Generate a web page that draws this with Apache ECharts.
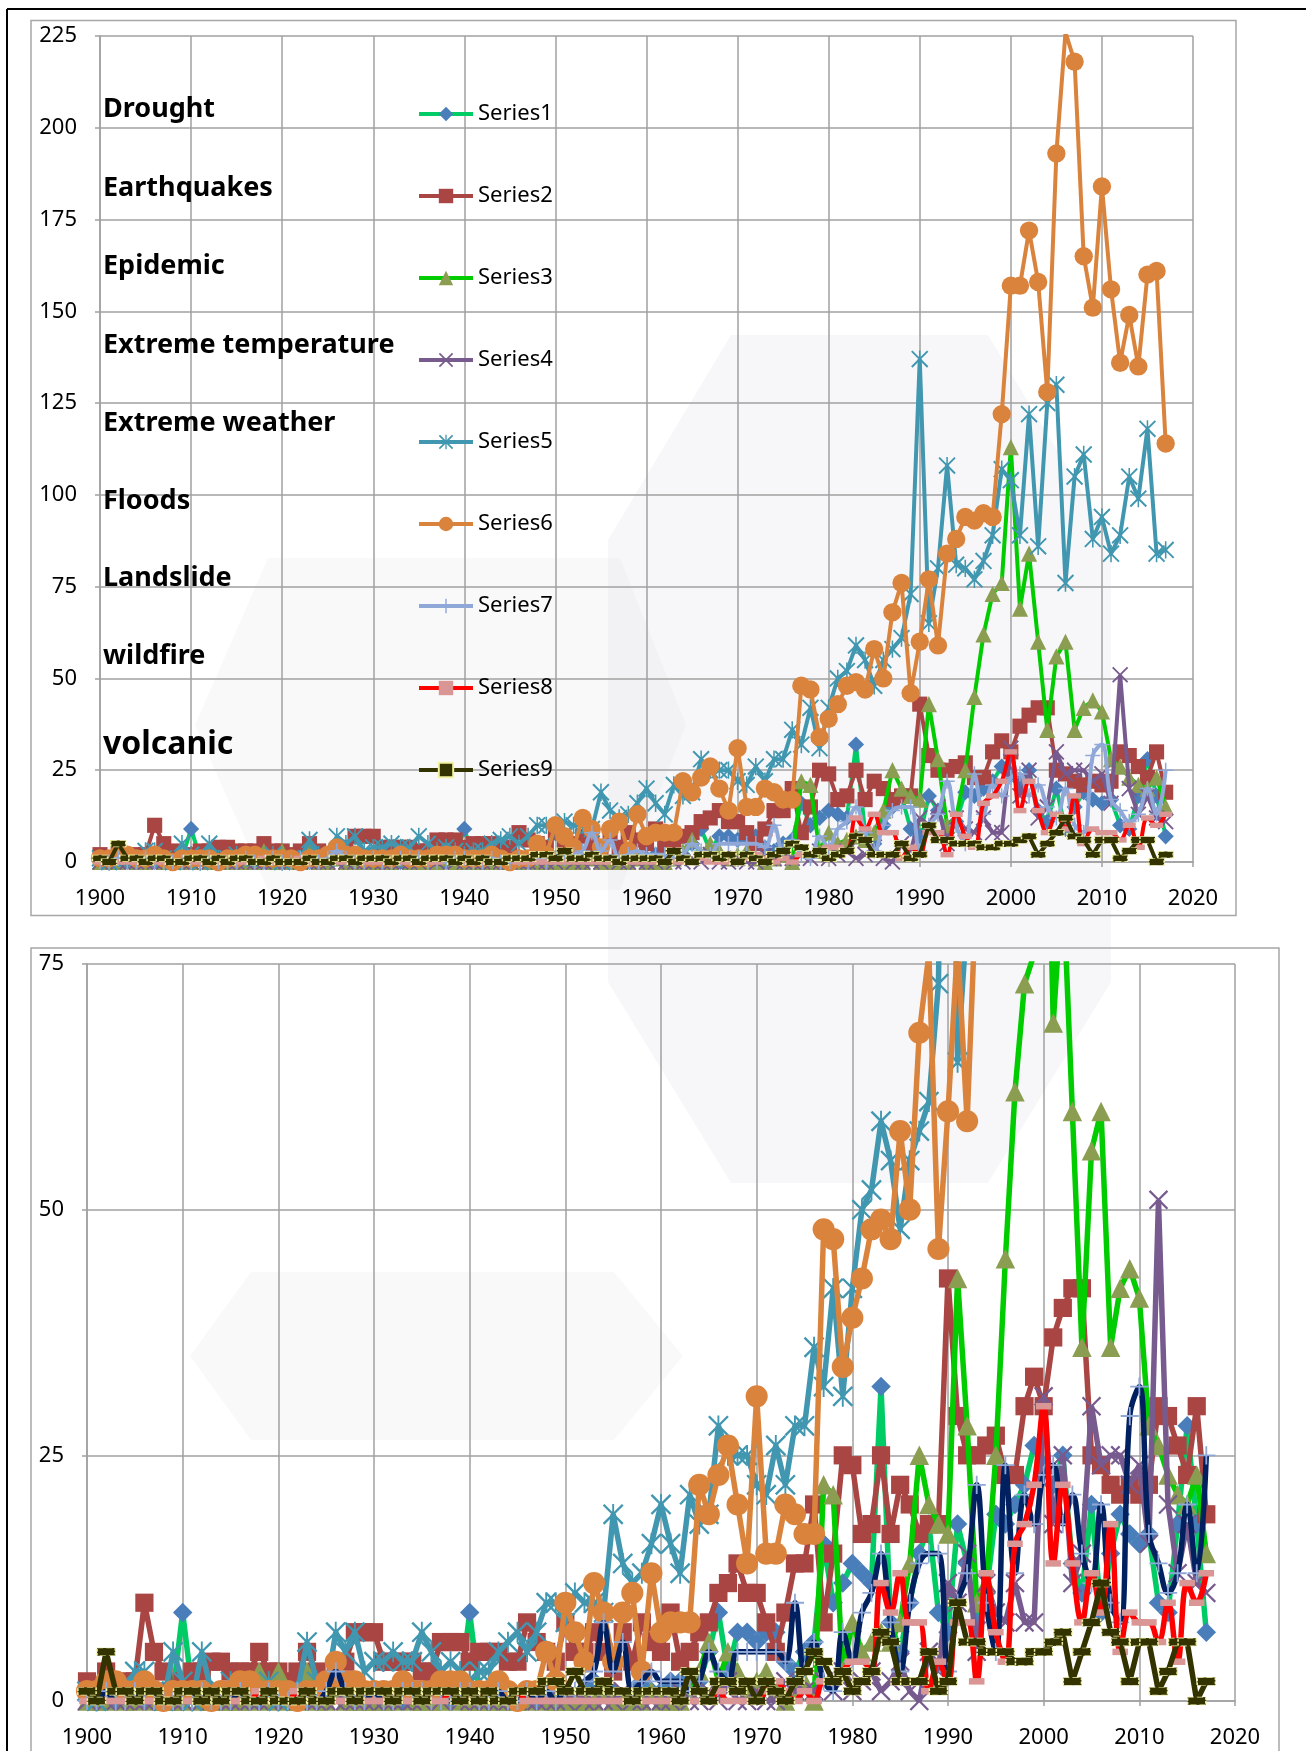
<!DOCTYPE html>
<html>
<head>
<meta charset="utf-8">
<script src="https://cdn.jsdelivr.net/npm/echarts@6/dist/echarts.min.js"></script>
<style>
html,body{margin:0;padding:0;background:#fff;}
#chart{width:1306px;height:1751px;}
</style>
</head>
<body>
<div id="chart"></div>
<script>
// ---------------- DATA ----------------
const firstYear = 1900;
const seriesNames = ['Series1','Series2','Series3','Series4','Series5','Series6','Series7','Series8','Series9'];
const categoryLabels = ['Drought','Earthquakes','Epidemic','Extreme temperature','Extreme weather','Floods','Landslide','wildfire','volcanic'];
const xTicks = [1900,1910,1920,1930,1940,1950,1960,1970,1980,1990,2000,2010,2020];
const yTicksTop = [0,25,50,75,100,125,150,175,200,225];
const yTicksBottom = [0,25,50,75];

// Drought
const s1 = [1,0,1,0,0,1,0,0,1,1, 9,1,0,1,0,0,1,0,0,1, 0,1,0,0,1,0,1,0,0,1, 0,1,0,0,1,0,0,1,0,1,
  9,1,1,0,1,0,1,0,1,1, 1,0,1,2,1,1,0,1,2,1, 1,2,2,1,2,5,9,3,7,7, 6,7,7,4,3,5,6,16,10,12,
  14,13,12,32,8,5,10,15,18,9, 7,18,14,8,11,19,18,20,22,26, 24,22,25,14,11,20,9,15,19,17, 16,17,10,9,18,28,18,7];
// Earthquakes
const s2 = [2,1,3,1,2,2,10,5,3,1, 2,3,3,4,4,3,3,3,5,3, 3,2,3,5,3,2,3,4,7,7, 7,4,4,4,4,3,3,6,6,6,
  4,5,5,5,4,4,8,6,5,4, 8,5,5,7,5,3,7,4,8,6, 5,9,4,5,7,8,11,12,14,11, 11,8,5,9,14,14,20,8,15,25,
  24,17,18,25,17,22,20,17,18,18, 43,29,25,25,26,27,23,23,30,33, 30,37,40,42,42,25,24,22,21,22, 21,22,30,29,26,23,30,19];
// Epidemic
const s3 = [0,0,0,1,0,0,1,0,0,0, 0,1,0,0,0,0,0,0,3,0, 3,0,0,3,0,0,1,0,0,0, 0,0,0,1,0,0,0,0,1,0,
  0,0,0,0,0,0,0,1,0,0, 0,0,0,0,1,0,0,0,0,1, 0,0,0,1,3,6,2,5,3,1, 2,3,1,0,1,2,0,22,21,3,
  8,5,6,7,6,8,14,25,20,18, 17,43,28,10,12,25,45,62,73,76, 113,69,84,60,36,56,60,36,42,44, 41,28,26,23,21,20,23,15];
// Extreme temperature
const s4 = [0,0,0,0,0,0,0,0,0,0, 0,0,0,0,0,0,0,0,0,0, 0,0,0,0,0,0,0,0,0,0, 0,0,0,0,0,0,1,0,1,0,
  0,0,0,0,0,0,0,0,0,0, 0,1,0,0,0,0,1,0,0,0, 0,0,1,0,0,1,0,2,0,0, 1,0,0,2,1,1,1,2,1,3,
  1,2,3,1,2,4,1,0,5,3, 12,10,15,5,12,9,8,12,8,8, 31,18,25,12,15,30,24,25,25,22, 24,16,51,20,13,18,12,11];
// Extreme weather
const s5 = [1,0,1,1,1,3,3,1,0,5, 2,0,5,1,1,2,1,1,1,2, 0,1,1,6,2,1,7,5,7,3, 4,4,5,4,4,7,5,3,4,3,
  2,3,3,5,6,7,5,7,10,10, 8,11,10,10,9,19,14,12,13,16, 20,16,13,21,18,19,28,25,25,25, 22,21,26,22,28,28,36,32,42,31,
  42,50,52,59,55,48,55,58,61,73, 137,65,80,108,81,80,77,82,89,107, 104,89,122,86,125,130,76,105,111,88, 94,84,89,105,99,118,84,85];
// Floods
const s6 = [1,1,2,2,1,1,2,1,0,1, 1,1,1,0,1,1,2,2,1,1, 1,1,0,1,1,2,4,2,2,1, 1,1,1,2,1,1,1,2,2,2,
  1,1,1,2,1,0,1,1,5,2, 10,7,4,12,9,4,9,11,3,13, 7,8,8,8,22,19,23,26,20,14, 31,15,15,20,19,17,17,48,47,34,
  39,43,48,49,47,58,50,68,76,46, 60,77,59,84,88,94,93,95,94,122, 157,157,172,158,128,193,226,218,165,151, 184,156,136,149,135,160,161,114];
// Landslide
const s7 = [0,0,1,0,0,1,0,0,0,0, 0,0,1,0,0,0,1,0,0,1, 0,0,1,0,0,1,3,1,0,0, 1,0,0,1,1,1,0,0,0,1,
  1,0,0,1,0,0,1,0,1,0, 1,1,2,3,8,3,6,1,2,3, 2,2,2,1,2,5,3,2,5,5, 5,5,5,4,10,3,6,2,1,7,
  4,9,11,15,8,3,10,14,15,15, 3,10,13,22,10,5,24,13,21,18, 23,24,18,21,15,12,20,10,8,29, 32,17,14,11,13,20,13,25];
// wildfire
const s8 = [0,0,0,0,0,0,0,0,0,0, 0,0,0,0,0,0,0,0,1,0, 0,0,1,0,0,0,0,0,0,0, 0,0,0,0,0,0,0,0,1,0,
  0,0,0,0,0,1,0,0,0,0, 0,0,0,0,0,0,0,0,0,0, 0,0,0,0,0,0,1,0,0,0, 0,1,2,1,0,1,0,2,2,3,
  4,4,3,12,9,13,8,8,1,4, 2,8,8,2,13,7,4,16,18,22, 30,14,22,14,8,13,9,18,5,9, 8,8,6,10,4,12,10,13];
// volcanic
const s9 = [1,0,5,1,1,0,1,1,0,0, 1,1,0,1,0,1,1,0,0,1, 0,0,0,1,0,0,1,1,0,1, 1,1,0,1,1,0,1,1,1,0,
  1,0,1,0,0,1,1,1,2,2, 1,3,1,1,2,1,1,0,1,1, 1,1,0,3,1,0,2,2,1,2, 0,2,1,0,2,3,5,4,2,3,
  1,2,3,7,6,2,2,2,5,1, 2,10,6,6,5,5,5,4,4,5, 5,6,7,2,5,8,12,7,6,2, 6,6,1,3,6,6,0,2];

const allSeries = [s1,s2,s3,s4,s5,s6,s7,s8,s9];
const years = s1.map((_, i) => firstYear + i);

// ---------------- STYLE ----------------
const xPath = 'path://M0,1.6L1.6,0L10,8.4L18.4,0L20,1.6L11.6,10L20,18.4L18.4,20L10,11.6L1.6,20L0,18.4L8.4,10Z';
const starPath = 'path://M0,1.6L1.6,0L10,8.4L18.4,0L20,1.6L11.6,10L20,18.4L18.4,20L10,11.6L1.6,20L0,18.4L8.4,10Z M9.1,0L10.9,0L10.9,20L9.1,20Z';
const plusPath = 'path://M9,0L11,0L11,9L20,9L20,11L11,11L11,20L9,20L9,11L0,11L0,9L9,9Z';

function styleFor(i, bottom) {
  const k = bottom ? 1.3 : 1.08;
  const lw = bottom ? 5.5 : 4;
  const st = [
    {line:'#00CC66', mark:'#4A7EBB', symbol:'diamond', size:15},
    {line:'#A94543', mark:'#A94543', symbol:'rect', size:14},
    {line:'#00CC00', mark:'#8A9D50', symbol:'triangle', size:15},
    {line:'#775A8E', mark:'#775A8E', symbol:xPath, size:15},
    {line:'#4197B0', mark:'#4197B0', symbol:starPath, size:16},
    {line:'#DA833C', mark:'#DA833C', symbol:'circle', size:17},
    {line: bottom ? '#002060' : '#8FA8D8', mark:'#8FA8D8', symbol:plusPath, size:14, smooth:0.4},
    {line:'#FF0000', mark:'#DA9694', symbol:'rect', size:[12,5], smooth:0.4},
    {line:'#333300', mark:'#333300', symbol:'rect', size:[14,6], border:'#F2F2A0'}
  ][i];
  const sz = Array.isArray(st.size) ? st.size.map(v => v * k) : st.size * k;
  const item = {color: st.mark, opacity: 1};
  if (st.border) { item.borderColor = st.border; item.borderWidth = 1; item.borderType = 'dashed'; }
  return {
    symbol: st.symbol, symbolSize: sz, smooth: st.smooth || false,
    lineStyle: {color: st.line, width: lw},
    itemStyle: item
  };
}

const series = [];
[0,1].forEach(g => {
  allSeries.forEach((vals, i) => {
    const s = styleFor(i, g === 1);
    series.push(Object.assign({
      name: seriesNames[i], type: 'line', xAxisIndex: g, yAxisIndex: g,
      data: vals.map((v, j) => [years[j], v]),
      showSymbol: true, clip: true, animation: false, z: 2 + i * 0.01
    }, s));
  });
});

const axisCommon = {
  axisLine: {show: true, lineStyle: {color: '#A0A0A0', width: 1.5}},
  axisTick: {show: true, length: 5, lineStyle: {color: '#A0A0A0', width: 1.5}},
  splitLine: {show: true, lineStyle: {color: '#A0A0A0', width: 1.5}}
};
const lblFont = {fontFamily: 'Noto Sans', fontSize: 22, color: '#000'};

function xAxis(g) {
  return Object.assign({
    type: 'value', gridIndex: g, min: xTicks[0], max: xTicks[xTicks.length-1], interval: 10,
    axisLabel: Object.assign({margin: 26, formatter: v => String(v)}, lblFont)
  }, axisCommon);
}
function yAxis(g, ticks) {
  return Object.assign({
    type: 'value', gridIndex: g, min: ticks[0], max: ticks[ticks.length-1], interval: ticks[1]-ticks[0],
    axisLabel: Object.assign({margin: 23}, lblFont)
  }, axisCommon);
}

const labelY = [109, 188, 266, 345, 423, 501, 578, 656, 745];
const graphics = [
  // watermark (light logo shapes)
  {type:'polygon', z:0, silent:true, shape:{points:[[731,335],[988,335],[1111,540],[1111,982],[988,1183],[731,1183],[608,982],[608,540]]}, style:{fill:'rgba(205,205,220,0.16)'}},
  {type:'polygon', z:0, silent:true, shape:{points:[[268,558],[620,558],[686,725],[620,890],[268,890],[195,725]]}, style:{fill:'rgba(205,205,220,0.13)'}},
  {type:'polygon', z:0, silent:true, shape:{points:[[251,1272],[614,1272],[683,1356],[614,1440],[251,1440],[190,1356]]}, style:{fill:'rgba(205,205,220,0.13)'}},
  // frames
  {type:'rect', z:1, silent:true, shape:{x:31, y:20.5, width:1205, height:895}, style:{fill:'none', stroke:'#A6A6A6', lineWidth:1.5}},
  {type:'rect', z:1, silent:true, shape:{x:31, y:948, width:1248, height:840}, style:{fill:'none', stroke:'#A6A6A6', lineWidth:1.5}},
  {type:'line', z:1, silent:true, shape:{x1:7, y1:9, x2:1306, y2:9}, style:{stroke:'#000', lineWidth:2}},
  {type:'line', z:1, silent:true, shape:{x1:7, y1:9, x2:7, y2:1751}, style:{stroke:'#000', lineWidth:2}}
];
categoryLabels.forEach((t, i) => {
  graphics.push({type:'text', z:5, x:103, y:labelY[i], style:{
    text: t, fill:'#000', font: 'bold ' + (i === 8 ? 32 : 27) + 'px "Noto Sans"',
    verticalAlign:'middle', textVerticalAlign:'middle'}});
});

const chart = echarts.init(document.getElementById('chart'), null, {renderer:'canvas'});
chart.setOption({
  animation: false,
  backgroundColor: '#fff',
  grid: [
    {left: 100, top: 36, width: 1093, height: 826},
    {left: 87, top: 964, width: 1148, height: 737}
  ],
  xAxis: [xAxis(0), xAxis(1)],
  yAxis: [yAxis(0, yTicksTop), yAxis(1, yTicksBottom)],
  legend: {
    data: seriesNames, orient: 'vertical', left: 412, top: 98,
    itemWidth: 54, itemHeight: 18, itemGap: 60,
    lineStyle: {width: 4},
    textStyle: {fontFamily: 'Noto Sans', fontSize: 22, color: '#000', lineHeight: 18},
    selectedMode: false
  },
  graphic: graphics,
  series: series
});
</script>
</body>
</html>
